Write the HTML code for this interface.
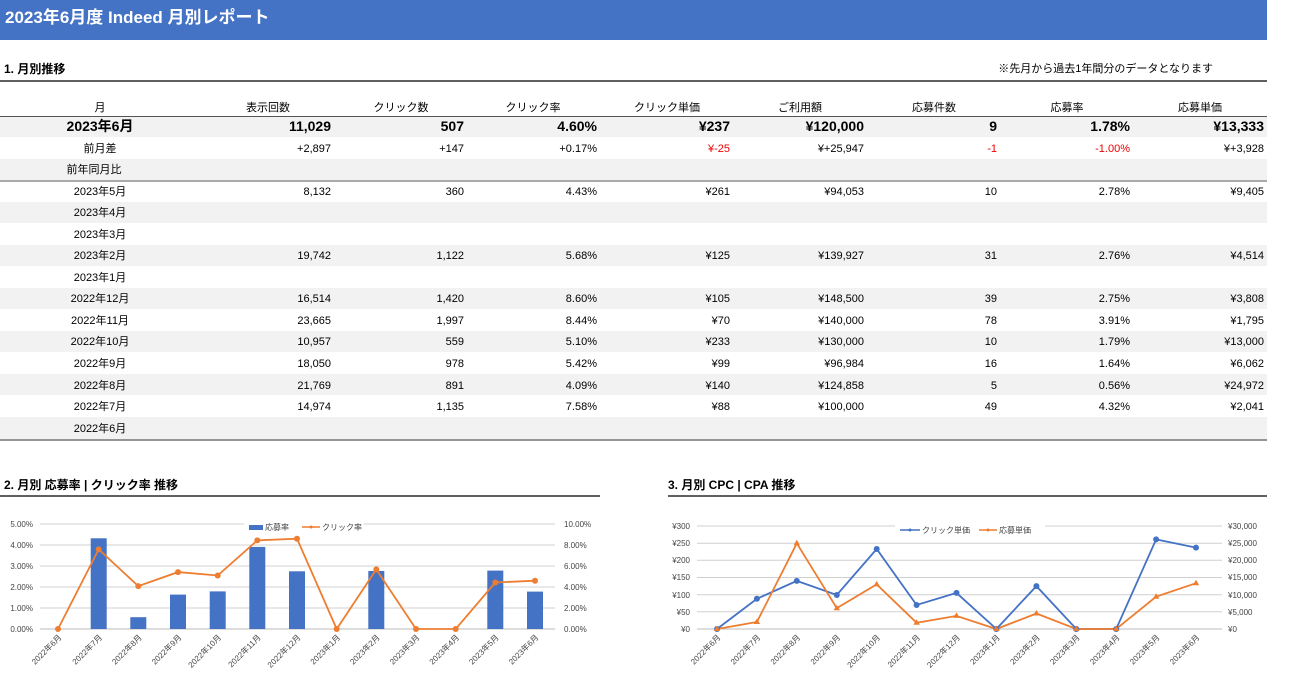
<!DOCTYPE html>
<html><head><meta charset="utf-8"><style>
body{margin:0;background:#fff;}
svg{display:block;font-family:"Liberation Sans","Noto Sans CJK JP",sans-serif;}
</style></head><body>
<svg width="1294" height="696" viewBox="0 0 1294 696" xmlns="http://www.w3.org/2000/svg">
<rect x="0" y="0" width="1267" height="40" fill="#4472c4"/>
<text x="5" y="23" fill="#fff" font-size="17" font-weight="bold">2023年6月度 Indeed 月別レポート</text>
<text x="4" y="73" font-size="12" font-weight="bold">1. 月別推移</text>
<text x="1213" y="72" font-size="11" text-anchor="end">※先月から過去1年間分のデータとなります</text>
<line x1="0" y1="81" x2="1267" y2="81" stroke="#000" stroke-width="1.3"/>
<g fill="#f2f2f2">
<rect x="0" y="117" width="1267" height="20"/><rect x="0" y="159" width="1267" height="21"/>
<rect x="0" y="202" width="1267" height="21"/><rect x="0" y="245" width="1267" height="21"/>
<rect x="0" y="288" width="1267" height="21"/><rect x="0" y="331" width="1267" height="21"/>
<rect x="0" y="374" width="1267" height="21"/><rect x="0" y="417" width="1267" height="22"/>
</g>
<line x1="0" y1="116.5" x2="1267" y2="116.5" stroke="#555" stroke-width="1"/>
<line x1="0" y1="181" x2="1267" y2="181" stroke="#555" stroke-width="1"/>
<line x1="0" y1="440" x2="1267" y2="440" stroke="#555" stroke-width="1.3"/>
<g font-size="11" text-anchor="middle">
<text x="100" y="111">月</text><text x="268" y="111">表示回数</text><text x="401" y="111">クリック数</text><text x="533" y="111">クリック率</text><text x="667" y="111">クリック単価</text><text x="800" y="111">ご利用額</text><text x="934" y="111">応募件数</text><text x="1067" y="111">応募率</text><text x="1200" y="111">応募単価</text>
</g>
<g font-size="14" font-weight="bold"><text x="100" y="131" text-anchor="middle">2023年6月</text>
<g text-anchor="end"><text x="331" y="131">11,029</text><text x="464" y="131">507</text><text x="597" y="131">4.60%</text><text x="730" y="131">¥237</text><text x="864" y="131">¥120,000</text><text x="997" y="131">9</text><text x="1130" y="131">1.78%</text><text x="1264" y="131">¥13,333</text></g></g>
<g font-size="11">
<g text-anchor="middle">
<text x="100" y="152">前月差</text><text x="94" y="173">前年同月比</text><text x="100" y="195">2023年5月</text><text x="100" y="216">2023年4月</text><text x="100" y="238">2023年3月</text><text x="100" y="259">2023年2月</text><text x="100" y="281">2023年1月</text><text x="100" y="302">2022年12月</text><text x="100" y="324">2022年11月</text><text x="100" y="345">2022年10月</text><text x="100" y="367">2022年9月</text><text x="100" y="389">2022年8月</text><text x="100" y="410">2022年7月</text><text x="100" y="432">2022年6月</text>
</g>
<g text-anchor="end">
<text x="331" y="152">+2,897</text><text x="464" y="152">+147</text><text x="597" y="152">+0.17%</text><text x="730" y="152" fill="#e00">¥-25</text><text x="864" y="152">¥+25,947</text><text x="997" y="152" fill="#e00">-1</text><text x="1130" y="152" fill="#e00">-1.00%</text><text x="1264" y="152">¥+3,928</text>
<text x="331" y="195">8,132</text><text x="464" y="195">360</text><text x="597" y="195">4.43%</text><text x="730" y="195">¥261</text><text x="864" y="195">¥94,053</text><text x="997" y="195">10</text><text x="1130" y="195">2.78%</text><text x="1264" y="195">¥9,405</text>
<text x="331" y="259">19,742</text><text x="464" y="259">1,122</text><text x="597" y="259">5.68%</text><text x="730" y="259">¥125</text><text x="864" y="259">¥139,927</text><text x="997" y="259">31</text><text x="1130" y="259">2.76%</text><text x="1264" y="259">¥4,514</text>
<text x="331" y="302">16,514</text><text x="464" y="302">1,420</text><text x="597" y="302">8.60%</text><text x="730" y="302">¥105</text><text x="864" y="302">¥148,500</text><text x="997" y="302">39</text><text x="1130" y="302">2.75%</text><text x="1264" y="302">¥3,808</text>
<text x="331" y="324">23,665</text><text x="464" y="324">1,997</text><text x="597" y="324">8.44%</text><text x="730" y="324">¥70</text><text x="864" y="324">¥140,000</text><text x="997" y="324">78</text><text x="1130" y="324">3.91%</text><text x="1264" y="324">¥1,795</text>
<text x="331" y="345">10,957</text><text x="464" y="345">559</text><text x="597" y="345">5.10%</text><text x="730" y="345">¥233</text><text x="864" y="345">¥130,000</text><text x="997" y="345">10</text><text x="1130" y="345">1.79%</text><text x="1264" y="345">¥13,000</text>
<text x="331" y="367">18,050</text><text x="464" y="367">978</text><text x="597" y="367">5.42%</text><text x="730" y="367">¥99</text><text x="864" y="367">¥96,984</text><text x="997" y="367">16</text><text x="1130" y="367">1.64%</text><text x="1264" y="367">¥6,062</text>
<text x="331" y="389">21,769</text><text x="464" y="389">891</text><text x="597" y="389">4.09%</text><text x="730" y="389">¥140</text><text x="864" y="389">¥124,858</text><text x="997" y="389">5</text><text x="1130" y="389">0.56%</text><text x="1264" y="389">¥24,972</text>
<text x="331" y="410">14,974</text><text x="464" y="410">1,135</text><text x="597" y="410">7.58%</text><text x="730" y="410">¥88</text><text x="864" y="410">¥100,000</text><text x="997" y="410">49</text><text x="1130" y="410">4.32%</text><text x="1264" y="410">¥2,041</text>
</g></g>

<!-- Chart 1 -->
<text x="4" y="489" font-size="12" font-weight="bold">2. 月別 応募率 | クリック率 推移</text>
<line x1="0" y1="496" x2="600" y2="496" stroke="#000" stroke-width="1.3"/>
<g stroke="#d0d0d0" stroke-width="1">
<line x1="40" y1="524" x2="555" y2="524"/><line x1="40" y1="545" x2="555" y2="545"/><line x1="40" y1="566" x2="555" y2="566"/><line x1="40" y1="587" x2="555" y2="587"/><line x1="40" y1="608" x2="555" y2="608"/>
</g>
<line x1="40" y1="629" x2="555" y2="629" stroke="#bbb"/>
<g font-size="8" fill="#444" text-anchor="end">
<text x="33" y="527">5.00%</text><text x="33" y="548">4.00%</text><text x="33" y="569">3.00%</text><text x="33" y="590">2.00%</text><text x="33" y="611">1.00%</text><text x="33" y="632">0.00%</text>
</g>
<g font-size="8" fill="#444">
<text x="564" y="527">10.00%</text><text x="564" y="548">8.00%</text><text x="564" y="569">6.00%</text><text x="564" y="590">4.00%</text><text x="564" y="611">2.00%</text><text x="564" y="632">0.00%</text>
</g>
<rect x="244" y="519" width="120" height="12" fill="#fff"/>
<rect x="249" y="525" width="14" height="5" fill="#4472c4"/>
<text x="265" y="530" font-size="8" fill="#444">応募率</text>
<line x1="302" y1="527" x2="320" y2="527" stroke="#ed7d31" stroke-width="1.5"/><circle cx="311" cy="527" r="1.5" fill="#ed7d31"/>
<text x="322" y="530" font-size="8" fill="#444">クリック率</text>
<g fill="#4472c4">
<rect x="90.7" y="538.3" width="16" height="90.7"/><rect x="130.3" y="617.2" width="16" height="11.8"/><rect x="170" y="594.6" width="16" height="34.4"/><rect x="209.7" y="591.4" width="16" height="37.6"/><rect x="249.3" y="546.9" width="16" height="82.1"/><rect x="289" y="571.3" width="16" height="57.7"/><rect x="368.3" y="571" width="16" height="58"/><rect x="487.3" y="570.6" width="16" height="58.4"/><rect x="527" y="591.6" width="16" height="37.4"/>
</g>
<polyline fill="none" stroke="#ed7d31" stroke-width="1.8" points="58,629 98.7,549.4 138.3,586.1 178,572.1 217.7,575.5 257.3,540.4 297,538.7 336.7,629 376.3,569.4 416,629 455.7,629 495.3,582.5 535,580.7"/>
<g fill="#ed7d31">
<circle cx="58" cy="629" r="3"/><circle cx="98.7" cy="549.4" r="3"/><circle cx="138.3" cy="586.1" r="3"/><circle cx="178" cy="572.1" r="3"/><circle cx="217.7" cy="575.5" r="3"/><circle cx="257.3" cy="540.4" r="3"/><circle cx="297" cy="538.7" r="3"/><circle cx="336.7" cy="629" r="3"/><circle cx="376.3" cy="569.4" r="3"/><circle cx="416" cy="629" r="3"/><circle cx="455.7" cy="629" r="3"/><circle cx="495.3" cy="582.5" r="3"/><circle cx="535" cy="580.7" r="3"/>
</g>
<g font-size="8" fill="#444" text-anchor="end">
<text transform="translate(62,638) rotate(-45)">2022年6月</text><text transform="translate(102.7,638) rotate(-45)">2022年7月</text><text transform="translate(142.3,638) rotate(-45)">2022年8月</text><text transform="translate(182,638) rotate(-45)">2022年9月</text><text transform="translate(221.7,638) rotate(-45)">2022年10月</text><text transform="translate(261.3,638) rotate(-45)">2022年11月</text><text transform="translate(301,638) rotate(-45)">2022年12月</text><text transform="translate(340.7,638) rotate(-45)">2023年1月</text><text transform="translate(380.3,638) rotate(-45)">2023年2月</text><text transform="translate(420,638) rotate(-45)">2023年3月</text><text transform="translate(459.7,638) rotate(-45)">2023年4月</text><text transform="translate(499.3,638) rotate(-45)">2023年5月</text><text transform="translate(539,638) rotate(-45)">2023年6月</text>
</g>

<!-- Chart 2 -->
<text x="668" y="489" font-size="12" font-weight="bold">3. 月別 CPC | CPA 推移</text>
<line x1="668" y1="496" x2="1267" y2="496" stroke="#000" stroke-width="1.3"/>
<g stroke="#d0d0d0" stroke-width="1">
<line x1="697" y1="526" x2="1222" y2="526"/><line x1="697" y1="543.2" x2="1222" y2="543.2"/><line x1="697" y1="560.3" x2="1222" y2="560.3"/><line x1="697" y1="577.5" x2="1222" y2="577.5"/><line x1="697" y1="594.7" x2="1222" y2="594.7"/><line x1="697" y1="611.8" x2="1222" y2="611.8"/>
</g>
<line x1="697" y1="629" x2="1222" y2="629" stroke="#bbb"/>
<g font-size="8" fill="#444" text-anchor="end">
<text x="690" y="529">¥300</text><text x="690" y="546">¥250</text><text x="690" y="563">¥200</text><text x="690" y="580">¥150</text><text x="690" y="598">¥100</text><text x="690" y="615">¥50</text><text x="690" y="632">¥0</text>
</g>
<g font-size="8" fill="#444">
<text x="1228" y="529">¥30,000</text><text x="1228" y="546">¥25,000</text><text x="1228" y="563">¥20,000</text><text x="1228" y="580">¥15,000</text><text x="1228" y="598">¥10,000</text><text x="1228" y="615">¥5,000</text><text x="1228" y="632">¥0</text>
</g>
<rect x="895" y="521" width="150" height="12" fill="#fff"/>
<line x1="900" y1="530" x2="920" y2="530" stroke="#4472c4" stroke-width="1.5"/><circle cx="910" cy="530" r="1.5" fill="#4472c4"/>
<text x="922" y="533" font-size="8" fill="#444">クリック単価</text>
<line x1="979" y1="530" x2="997" y2="530" stroke="#ed7d31" stroke-width="1.5"/><circle cx="988" cy="530" r="1.5" fill="#ed7d31"/>
<text x="999" y="533" font-size="8" fill="#444">応募単価</text>
<polyline fill="none" stroke="#4472c4" stroke-width="1.8" points="717,629 756.9,598.8 796.8,580.9 836.8,595 876.7,549 916.6,605 956.5,592.9 996.4,629 1036.4,586.1 1076.3,629 1116.2,629 1156.1,539.4 1196,547.6"/>
<polyline fill="none" stroke="#ed7d31" stroke-width="1.8" points="717,629 756.9,622 796.8,543.3 836.8,608.2 876.7,584.4 916.6,622.8 956.5,615.9 996.4,629 1036.4,613.5 1076.3,629 1116.2,629 1156.1,596.7 1196,583.2"/>
<g fill="#4472c4">
<circle cx="717" cy="629" r="3"/><circle cx="756.9" cy="598.8" r="3"/><circle cx="796.8" cy="580.9" r="3"/><circle cx="836.8" cy="595" r="3"/><circle cx="876.7" cy="549" r="3"/><circle cx="916.6" cy="605" r="3"/><circle cx="956.5" cy="592.9" r="3"/><circle cx="996.4" cy="629" r="3"/><circle cx="1036.4" cy="586.1" r="3"/><circle cx="1076.3" cy="629" r="3"/><circle cx="1116.2" cy="629" r="3"/><circle cx="1156.1" cy="539.4" r="3"/><circle cx="1196" cy="547.6" r="3"/>
</g>
<g fill="#ed7d31">
<path d="M717,625.5 l3.2,5.5 h-6.4z"/><path d="M756.9,618.5 l3.2,5.5 h-6.4z"/><path d="M796.8,539.8 l3.2,5.5 h-6.4z"/><path d="M836.8,604.7 l3.2,5.5 h-6.4z"/><path d="M876.7,580.9 l3.2,5.5 h-6.4z"/><path d="M916.6,619.3 l3.2,5.5 h-6.4z"/><path d="M956.5,612.4 l3.2,5.5 h-6.4z"/><path d="M996.4,625.5 l3.2,5.5 h-6.4z"/><path d="M1036.4,610 l3.2,5.5 h-6.4z"/><path d="M1076.3,625.5 l3.2,5.5 h-6.4z"/><path d="M1116.2,625.5 l3.2,5.5 h-6.4z"/><path d="M1156.1,593.2 l3.2,5.5 h-6.4z"/><path d="M1196,579.7 l3.2,5.5 h-6.4z"/>
</g>
<g font-size="8" fill="#444" text-anchor="end">
<text transform="translate(721,638) rotate(-45)">2022年6月</text><text transform="translate(760.9,638) rotate(-45)">2022年7月</text><text transform="translate(800.8,638) rotate(-45)">2022年8月</text><text transform="translate(840.8,638) rotate(-45)">2022年9月</text><text transform="translate(880.7,638) rotate(-45)">2022年10月</text><text transform="translate(920.6,638) rotate(-45)">2022年11月</text><text transform="translate(960.5,638) rotate(-45)">2022年12月</text><text transform="translate(1000.4,638) rotate(-45)">2023年1月</text><text transform="translate(1040.4,638) rotate(-45)">2023年2月</text><text transform="translate(1080.3,638) rotate(-45)">2023年3月</text><text transform="translate(1120.2,638) rotate(-45)">2023年4月</text><text transform="translate(1160.1,638) rotate(-45)">2023年5月</text><text transform="translate(1200,638) rotate(-45)">2023年6月</text>
</g>
</svg>
</body></html>
